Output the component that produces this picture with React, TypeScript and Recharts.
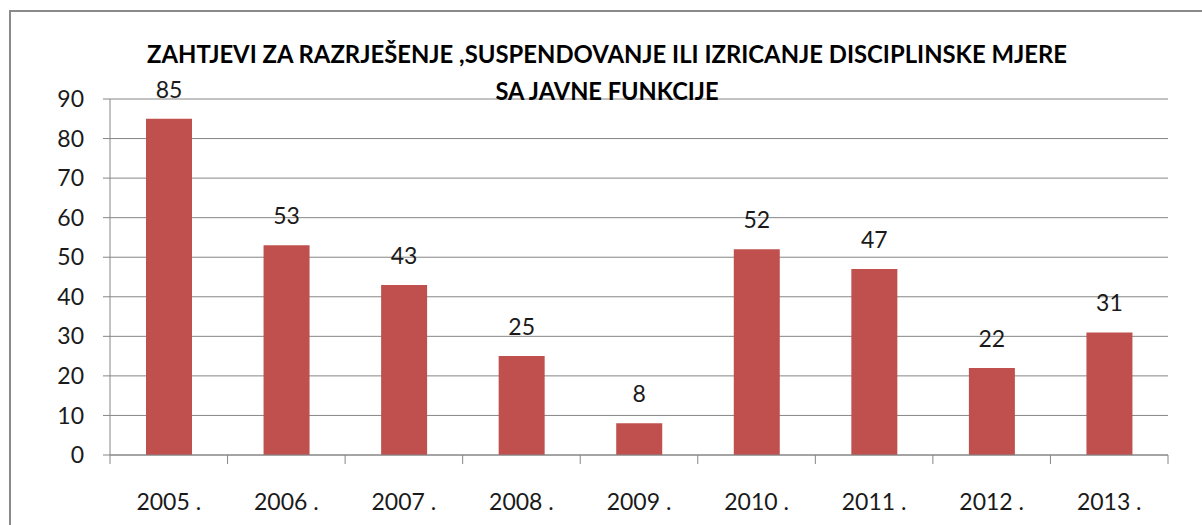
import React from "react";
import { BarChart, Bar, XAxis, YAxis, CartesianGrid, LabelList } from "recharts";

const years = ["2005 .", "2006 .", "2007 .", "2008 .", "2009 .", "2010 .", "2011 .", "2012 .", "2013 ."];
const requests = [85, 53, 43, 25, 8, 52, 47, 22, 31];
const yTicks = [0, 10, 20, 30, 40, 50, 60, 70, 80, 90];
const titleLines = [
  "ZAHTJEVI ZA RAZRJEŠENJE ,SUSPENDOVANJE ILI IZRICANJE DISCIPLINSKE MJERE",
  "SA JAVNE FUNKCIJE",
];

const data = years.map((y, i) => ({ year: y, value: requests[i] }));

const FONT = "Lato, 'Open Sans', sans-serif";
const TEXT = "#1a1a1a";
const GRID = "#868686";

const XTick = (props: any) => {
  const { x, y, payload, index } = props;
  const off = payload && payload.offset ? payload.offset : 58.8;
  const last = index === years.length - 1;
  return (
    <g>
      <line x1={x - off} y1={y - 9} x2={x - off} y2={y} stroke={GRID} strokeWidth={1} />
      {last && <line x1={x + off} y1={y - 9} x2={x + off} y2={y} stroke={GRID} strokeWidth={1} />}
      <text x={x} y={y + 46} textAnchor="middle" fontFamily={FONT} fontSize={23} fill={TEXT}>
        {payload.value}
      </text>
    </g>
  );
};

export default function App() {
  return (
    <div style={{ position: "absolute", left: 0, top: 0, width: 1202, height: 525, background: "#fff", overflow: "hidden" }}>
      <div
        style={{
          position: "absolute",
          left: 9,
          top: 10,
          width: 1193,
          height: 515,
          boxSizing: "border-box",
          borderLeft: "2px solid #8a8a8a",
          borderTop: "2px solid #8a8a8a",
        }}
      />
      <div style={{ position: "absolute", left: 0, top: 0 }}>
        <BarChart width={1202} height={525} data={data} margin={{ top: 99, right: 34, bottom: 0, left: 0 }}>
          <CartesianGrid vertical={false} stroke={GRID} strokeWidth={1} />
          <XAxis
            dataKey="year"
            height={70}
            tickLine={false}
            tickSize={9}
            tickMargin={0}
            axisLine={{ stroke: GRID }}
            tick={<XTick />}
            interval={0}
          />
          <YAxis
            width={110}
            domain={[0, 90]}
            ticks={yTicks}
            interval={0}
            tickSize={7}
            tickMargin={19}
            axisLine={{ stroke: GRID }}
            tickLine={{ stroke: GRID }}
            tick={{ fontFamily: FONT, fontSize: 23, fill: TEXT }}
          />
          <Bar dataKey="value" fill="#C0504D" barSize={46} isAnimationActive={false}>
            <LabelList dataKey="value" position="top" offset={21} fontFamily={FONT} fontSize={23} fill={TEXT} />
          </Bar>
        </BarChart>
      </div>
      <svg width={1202} height={525} style={{ position: "absolute", left: 0, top: 0, pointerEvents: "none" }}>
        <text x={607} y={63} textAnchor="middle" fontFamily={FONT} fontWeight="bold" fontSize={25} fill="#000" textLength={920} lengthAdjust="spacingAndGlyphs">
          {titleLines[0]}
        </text>
        <text x={607} y={100} textAnchor="middle" fontFamily={FONT} fontWeight="bold" fontSize={25} fill="#000" textLength={223} lengthAdjust="spacingAndGlyphs">
          {titleLines[1]}
        </text>
      </svg>
    </div>
  );
}
